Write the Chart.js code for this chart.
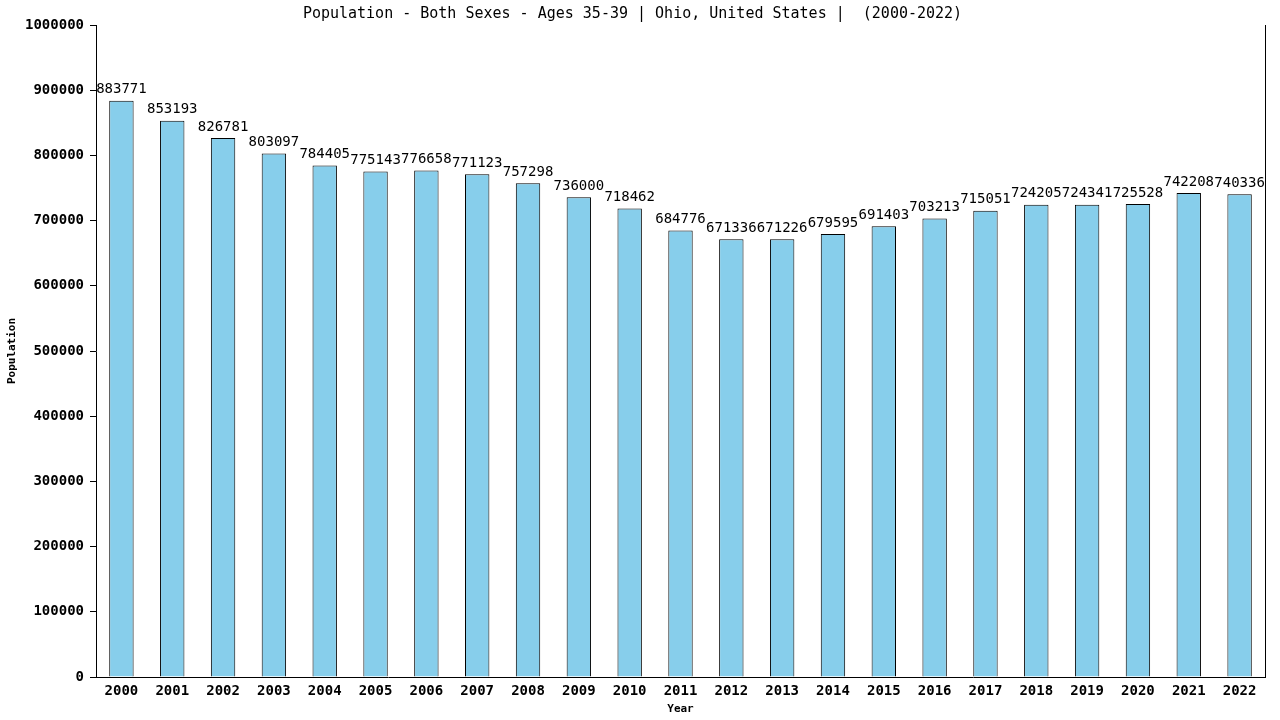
<!DOCTYPE html>
<html>
<head>
<meta charset="utf-8">
<script src="https://cdn.jsdelivr.net/npm/chart.js@4.4.0/dist/chart.umd.min.js"></script>
<style>
  html, body { margin: 0; padding: 0; background: #fff; }
  #wrap { width: 1280px; height: 720px; }
</style>
</head>
<body>
<div id="wrap"><canvas id="chartPop" width="1280" height="720"></canvas></div>
<script>
var years = ['2000', '2001', '2002', '2003', '2004', '2005', '2006', '2007', '2008', '2009', '2010', '2011',
    '2012', '2013', '2014', '2015', '2016', '2017', '2018', '2019', '2020', '2021', '2022'];
var population = [883771, 853193, 826781, 803097, 784405, 775143, 776658, 771123, 757298, 736000, 718462, 684776,
    671336, 671226, 679595, 691403, 703213, 715051, 724205, 724341, 725528, 742208, 740336];
var yTicks = [0, 100000, 200000, 300000, 400000, 500000, 600000, 700000, 800000, 900000, 1000000];

var fontFamily = '"DejaVu Sans Mono", monospace';

// value labels above each bar + right border line
var labelPlugin = {
    id: 'valueLabels',
    afterDatasetsDraw: function (chart) {
        var ctx = chart.ctx;
        var meta = chart.getDatasetMeta(0);
        ctx.save();
        ctx.font = '14px ' + fontFamily;
        ctx.fillStyle = '#000';
        ctx.textAlign = 'center';
        ctx.textBaseline = 'bottom';
        meta.data.forEach(function (bar, i) {
            ctx.fillText(String(population[i]), bar.x, bar.y - 4);
        });
        var area = chart.chartArea;
        ctx.strokeStyle = '#000';
        ctx.lineWidth = 1;
        ctx.beginPath();
        ctx.moveTo(Math.round(area.right) + 0.5, area.top);
        ctx.lineTo(Math.round(area.right) + 0.5, area.bottom);
        ctx.stroke();
        ctx.restore();
    }
};

var ctx = document.getElementById('chartPop').getContext('2d');
var myChart = new Chart(ctx, {
    type: 'bar',
    data: {
        labels: years,
        datasets: [{
            data: population,
            backgroundColor: '#87ceeb',
            borderColor: '#000',
            borderWidth: 1,
            barPercentage: 0.48,
            categoryPercentage: 1
        }]
    },
    plugins: [labelPlugin],
    options: {
        responsive: false,
        animation: false,
        layout: {
            padding: { left: 0, right: 15, top: 0, bottom: 0 }
        },
        plugins: {
            legend: { display: false },
            tooltip: { enabled: false },
            title: {
                display: true,
                text: 'Population - Both Sexes - Ages 35-39 | Ohio, United States |  (2000-2022)',
                color: '#000',
                font: { family: fontFamily, size: 15, weight: 'normal' },
                padding: { top: 5, bottom: 2 }
            }
        },
        scales: {
            x: {
                grid: { display: true, drawOnChartArea: false, drawTicks: false },
                border: { display: true, color: '#000', width: 1 },
                ticks: {
                    color: '#000',
                    padding: 6,
                    maxRotation: 0,
                    font: { family: fontFamily, size: 14, weight: 'bold' }
                },
                title: {
                    display: true,
                    text: 'Year',
                    color: '#000',
                    font: { family: fontFamily, size: 11, weight: 'bold' },
                    padding: { top: 4, bottom: 4 }
                },
                afterFit: function (scale) { scale.height = 43; }
            },
            y: {
                min: 0,
                max: 1000000,
                afterBuildTicks: function (scale) {
                    scale.ticks = yTicks.map(function (v) { return { value: v }; });
                },
                grid: { display: true, drawOnChartArea: false, drawTicks: true, tickLength: 6, color: '#000' },
                border: { display: true, color: '#000', width: 1 },
                ticks: {
                    color: '#000',
                    padding: 6,
                    font: { family: fontFamily, size: 14, weight: 'bold' },
                    callback: function (value) { return String(value); }
                },
                title: {
                    display: true,
                    text: 'Population',
                    color: '#000',
                    font: { family: fontFamily, size: 11, weight: 'bold' },
                    padding: { top: 6, bottom: 6 }
                },
                afterFit: function (scale) { scale.width = 96; }
            }
        }
    }
});
</script>
</body>
</html>
